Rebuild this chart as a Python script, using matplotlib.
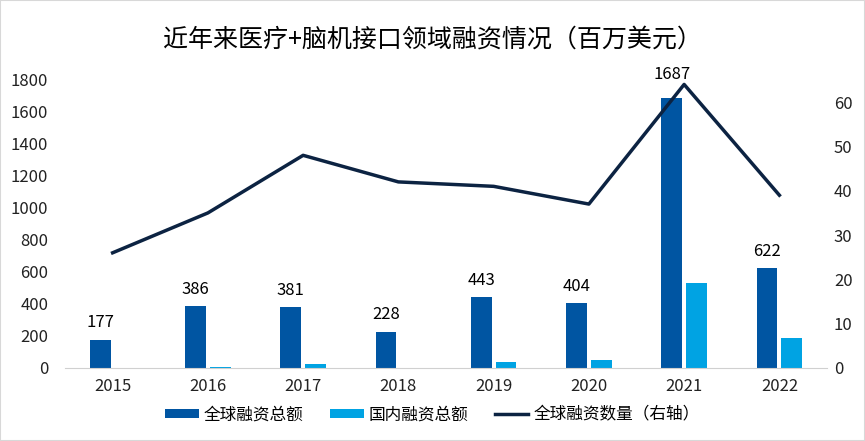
import matplotlib.pyplot as plt
import numpy as np
from matplotlib.patches import Rectangle

plt.rcParams['font.family'] = ['Noto Sans CJK SC', 'DejaVu Sans']

# Data
years = ['2015', '2016', '2017', '2018', '2019', '2020', '2021', '2022']
global_amount = [177, 386, 381, 228, 443, 404, 1687, 622]
domestic_amount = [2, 6, 25, 0, 36, 52, 531, 188]
global_count = [26, 35, 48, 42, 41, 37, 64, 39]

dark_blue = '#0055a2'
light_blue = '#00a3e3'
navy = '#0c2342'

x = np.arange(len(years))
w = 0.22

fig = plt.figure(figsize=(8.65, 4.41), dpi=100)
ax = fig.add_axes([65 / 865, 1 - 368 / 441, 762 / 865, 288 / 441])
ax2 = ax.twinx()

b1 = ax.bar(x - 0.13, global_amount, w, color=dark_blue, label='全球融资总额')
b2 = ax.bar(x + 0.13, domestic_amount, w, color=light_blue, label='国内融资总额')
ln, = ax2.plot(x, global_count, color=navy, lw=2.5, label='全球融资数量（右轴）')

# value labels above the global bars (the 2021 one sits a bit higher, clear of the line)
for xi, v in zip(x, global_amount):
    dy = 24 if v == max(global_amount) else 17
    ax2.annotate(str(v), (xi - 0.13, 0), xycoords=('data', 'axes fraction'),
                 xytext=(0, v / 1800 * 288 + dy), textcoords='offset pixels',
                 ha='center', va='center', fontsize=12)

ax.set_xlim(-0.5, len(years) - 0.5)
ax.set_ylim(0, 1800)
ax.set_yticks(range(0, 1801, 200))
ax2.set_ylim(0, 65)
ax2.set_yticks(range(0, 61, 10))
ax.set_xticks(x)
ax.set_xticklabels(years)

for a in (ax, ax2):
    for s in a.spines.values():
        s.set_visible(False)
    a.tick_params(length=0, labelsize=12, colors='#222222')
ax.spines['bottom'].set_visible(True)
ax.spines['bottom'].set_color('#d0d0d0')
ax.tick_params(axis='x', pad=7)
ax.tick_params(axis='y', pad=12)
ax2.tick_params(axis='y', pad=5)

fig.text(0.5, 1 - 40 / 441, '近年来医疗+脑机接口领域融资情况（百万美元）',
         ha='center', va='center', fontsize=18)

fig.legend(handles=[b1, b2, ln], loc='center', bbox_to_anchor=(0.5, 1 - 415 / 441),
           ncol=3, frameon=False, fontsize=12, handlelength=2.0, handleheight=0.5,
           columnspacing=1.6, handletextpad=0.3)

fig.patches.append(Rectangle((0, 0), 1, 1, transform=fig.transFigure, fill=False,
                             edgecolor='#d8d8d8', lw=1.5))

fig.savefig('out.png', dpi=100)
